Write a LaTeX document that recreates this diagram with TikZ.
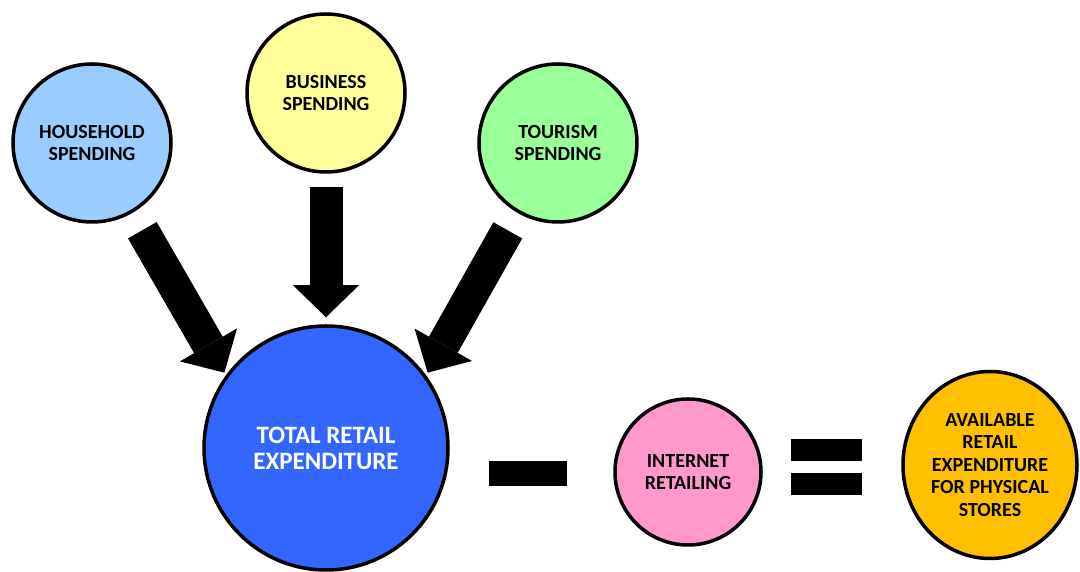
\documentclass[tikz,border=0pt]{standalone}
\usepackage{fontspec}
\setmainfont{Carlito}
\usetikzlibrary{arrows.meta,shapes.geometric}

\definecolor{houseblue}{HTML}{99CCFF}
\definecolor{busyellow}{HTML}{FFFF99}
\definecolor{tourgreen}{HTML}{99FF99}
\definecolor{totalblue}{HTML}{3366FF}
\definecolor{netpink}{HTML}{FF99CC}
\definecolor{storegold}{HTML}{FFC000}

\begin{document}
\begin{tikzpicture}[x=1pt, y=1pt,
    spend/.style={draw, circle, line width=3.5pt, inner sep=0pt, align=center,
      minimum size=158pt, font=\fontsize{20}{22.5}\selectfont\bfseries},
    bigarrow/.style={line width=33pt, -{Triangle[length=32pt, width=66pt, line width=0pt]}},
    bar/.style={fill=black, inner sep=0pt, minimum width=71pt, minimum height=22pt}]
        \useasboundingbox (0, 0) rectangle (1080, 572);

        % spending sources
        \node[spend, fill=houseblue] (house) at (92, 429) {HOUSEHOLD\\SPENDING};
        \node[spend, fill=busyellow] (bus) at (326, 479) {BUSINESS\\SPENDING};
        \node[spend, fill=tourgreen] (tour) at (558, 429) {TOURISM\\SPENDING};

        % the sum and what comes out of it
        \node[spend, fill=totalblue, minimum size=244pt, text=white,
              font=\fontsize{25}{26}\selectfont\bfseries] (total) at (326, 124) {TOTAL RETAIL\\EXPENDITURE};
        \node[spend, fill=netpink, minimum size=146pt] (inet) at (688, 100) {INTERNET\\RETAILING};
        \node[spend, ellipse, fill=storegold, minimum width=174pt, minimum height=187pt] (avail) at (990, 107)
              {AVAILABLE\\RETAIL\\EXPENDITURE\\FOR PHYSICAL\\STORES};

        % minus and equals signs
        \node[bar, minimum width=78pt, minimum height=25pt] (minus) at (528, 98.5) {};
        \node[bar] (eqtop) at (826, 122) {};
        \node[bar] (eqbot) at (826, 87.5) {};

        \draw[bigarrow, shorten <=20pt, shorten >=3pt] (house.300) -- (total.144);
        \draw[bigarrow, shorten <=13pt, shorten >=7pt] (bus.south) -- (total.north);
        \draw[bigarrow, shorten <=20pt, shorten >=3pt] (tour.240) -- (total.36);
    \end{tikzpicture}
\end{document}
